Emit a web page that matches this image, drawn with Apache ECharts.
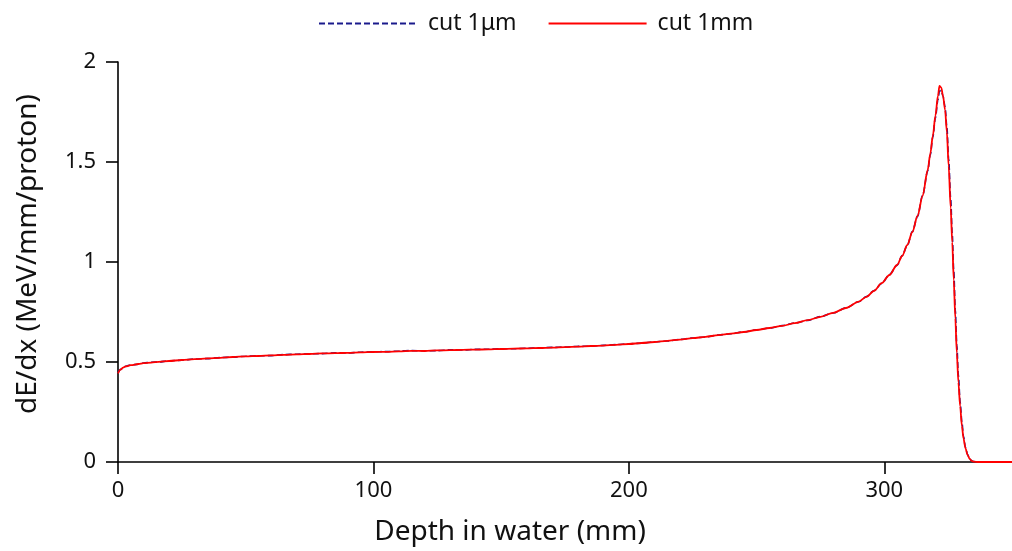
<!DOCTYPE html>
<html>
<head>
<meta charset="utf-8">
<script src="https://cdn.jsdelivr.net/npm/echarts@6/dist/echarts.min.js"></script>
<style>html,body{margin:0;padding:0;background:#fff}#c{width:1012px;height:551px}</style>
</head>
<body>
<div id="c"></div>
<script>
const depth = [0, 1, 2, 3, 5, 8, 10, 13, 16, 20, 25, 30, 35, 40, 45, 50, 55, 60, 65, 70, 75, 80, 85, 90, 95, 100, 105, 110, 115, 120, 125, 130, 135, 140, 145, 150, 155, 160, 165, 170, 175, 180, 185, 190, 195, 200, 205, 210, 215, 220, 225, 230, 235, 240, 245, 250, 255, 260, 265, 270, 275, 280, 285, 290, 293, 296, 299, 302, 305, 307, 309, 311, 313, 315, 317, 318, 319, 320, 321, 321.6, 322.3, 323, 323.8, 324.5, 325.2, 326, 326.6, 327.2, 327.8, 328.4, 329, 329.7, 330.4, 331, 331.8, 332.6, 333.4, 334.2, 335, 337, 340, 345, 350];

const cut1mm = [0.443, 0.462, 0.472, 0.478, 0.484, 0.490, 0.494, 0.497, 0.501, 0.505, 0.510, 0.514, 0.518, 0.521, 0.525, 0.528, 0.530, 0.533, 0.536, 0.538, 0.540, 0.543, 0.544, 0.546, 0.548, 0.550, 0.551, 0.553, 0.556, 0.555, 0.558, 0.559, 0.561, 0.562, 0.563, 0.565, 0.567, 0.568, 0.570, 0.572, 0.574, 0.577, 0.580, 0.582, 0.586, 0.590, 0.595, 0.600, 0.606, 0.612, 0.619, 0.626, 0.634, 0.642, 0.650, 0.660, 0.670, 0.681, 0.694, 0.709, 0.726, 0.746, 0.770, 0.802, 0.826, 0.856, 0.894, 0.935, 0.985, 1.030, 1.085, 1.150, 1.230, 1.330, 1.460, 1.540, 1.630, 1.730, 1.830, 1.880, 1.872, 1.830, 1.760, 1.650, 1.480, 1.270, 1.100, 0.910, 0.720, 0.545, 0.400, 0.278, 0.180, 0.118, 0.068, 0.036, 0.016, 0.006, 0.002, 0, 0, 0, 0];

const cut1um = [0.446, 0.463, 0.470, 0.479, 0.485, 0.489, 0.495, 0.499, 0.500, 0.506, 0.509, 0.515, 0.517, 0.522, 0.524, 0.529, 0.531, 0.532, 0.537, 0.539, 0.541, 0.542, 0.546, 0.545, 0.549, 0.551, 0.552, 0.555, 0.557, 0.556, 0.557, 0.561, 0.560, 0.563, 0.564, 0.566, 0.566, 0.569, 0.571, 0.573, 0.575, 0.578, 0.579, 0.583, 0.587, 0.591, 0.594, 0.601, 0.605, 0.613, 0.620, 0.625, 0.635, 0.641, 0.651, 0.661, 0.669, 0.682, 0.695, 0.708, 0.727, 0.745, 0.771, 0.801, 0.827, 0.857, 0.893, 0.937, 0.983, 1.032, 1.083, 1.152, 1.228, 1.332, 1.455, 1.535, 1.625, 1.720, 1.810, 1.855, 1.858, 1.828, 1.775, 1.675, 1.515, 1.315, 1.140, 0.955, 0.760, 0.585, 0.435, 0.300, 0.198, 0.128, 0.072, 0.038, 0.017, 0.006, 0.002, 0, 0, 0, 0];

const xTicks = [0, 100, 200, 300];
const yTicks = [0, 0.5, 1, 1.5, 2];

const FONT = 'Noto Sans';
const chart = echarts.init(document.getElementById('c'), null, {renderer: 'canvas'});
const pairs = (ys) => depth.map((d, i) => [d, ys[i]]);

chart.setOption({
  animation: false,
  backgroundColor: '#fff',
  textStyle: {fontFamily: FONT},
  legend: {
    top: 7,
    left: 313,
    itemWidth: 98,
    itemHeight: 14,
    itemGap: 31,
    itemStyle: {opacity: 0},
    textStyle: {fontFamily: FONT, fontSize: 23, color: '#111', padding: [0, 0, 0, 6]},
    data: ['cut 1μm', 'cut 1mm']
  },
  grid: {left: 118, right: -4, top: 62, bottom: 86, containLabel: false},
  xAxis: {
    type: 'value',
    min: 0, max: 350, interval: 100,
    name: 'Depth in water (mm)',
    nameLocation: 'middle',
    nameGap: 56,
    nameTextStyle: {fontFamily: FONT, fontSize: 28, color: '#111', padding: [0, 110, 0, 0]},
    axisLine: {show: true, onZero: false, lineStyle: {color: '#000', width: 1.6}},
    axisTick: {show: true, length: 12, lineStyle: {color: '#000', width: 1.6}},
    axisLabel: {fontFamily: FONT, fontSize: 22, color: '#111', margin: 18, showMaxLabel: false,
      formatter: (v) => xTicks.includes(v) ? String(v) : ''},
    splitLine: {show: false}
  },
  yAxis: {
    type: 'value',
    min: 0, max: 2, interval: 0.5,
    name: 'dE/dx (MeV/mm/proton)',
    nameLocation: 'middle',
    nameGap: 76,
    nameTextStyle: {fontFamily: FONT, fontSize: 28, color: '#111', padding: [0, 0, 0, 16]},
    axisLine: {show: true, lineStyle: {color: '#000', width: 1.6}},
    axisTick: {show: true, length: 12, lineStyle: {color: '#000', width: 1.6}},
    axisLabel: {fontFamily: FONT, fontSize: 22, color: '#111', margin: 22,
      formatter: (v) => yTicks.includes(v) ? String(v) : ''},
    splitLine: {show: false}
  },
  series: [
    {
      name: 'cut 1μm',
      type: 'line',
      data: pairs(cut1um),
      symbol: 'none',
      smooth: 0.3,
      smoothMonotone: 'x',
      lineStyle: {color: '#1a1a8c', width: 1.6, type: [6, 3]},
      itemStyle: {color: '#1a1a8c'},
      z: 2
    },
    {
      name: 'cut 1mm',
      type: 'line',
      data: pairs(cut1mm),
      symbol: 'none',
      smooth: 0.3,
      smoothMonotone: 'x',
      lineStyle: {color: '#ff0000', width: 1.8},
      itemStyle: {color: '#ff0000'},
      z: 3
    }
  ]
});
</script>
</body>
</html>
